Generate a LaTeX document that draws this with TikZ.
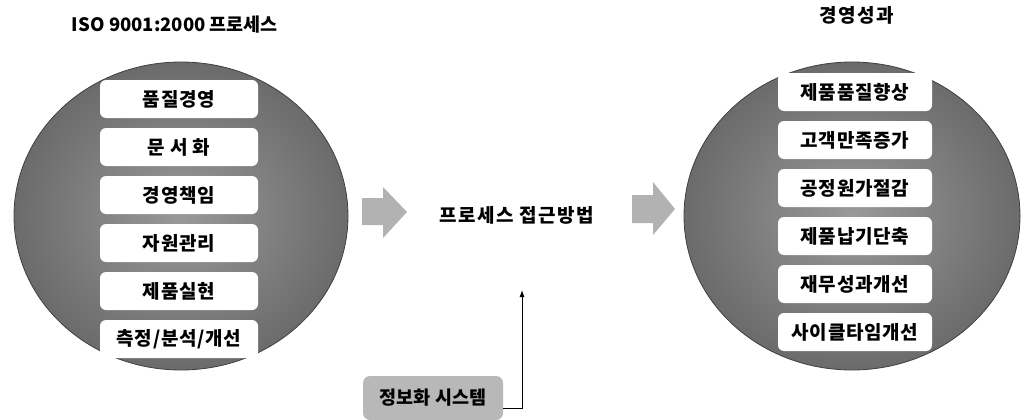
\documentclass[tikz,border=0pt]{standalone}
\usepackage{fontspec}
\setmainfont{Noto Sans CJK KR}
\usetikzlibrary{shapes.geometric,arrows.meta}
\tikzset{
  globe/.style={ellipse, inner sep=0pt, draw=black!75, line width=0.8pt,
    inner color=black!40, outer color=black!58},
  itembox/.style={fill=white, rounded corners=6pt, inner sep=0pt,
    font=\fontsize{19}{19}\selectfont\bfseries\addfontfeature{LetterSpace=4}},
  blockarrow/.style={fill=black!30},
  title/.style={font=\fontsize{18.5}{19}\selectfont\bfseries, inner sep=0pt},
  infobox/.style={fill=black!28, rounded corners=7pt, inner sep=0pt,
    minimum width=140pt, minimum height=44pt, font=\fontsize{18.5}{19}\selectfont\bfseries},
  link/.style={draw=black, line width=0.9pt, -{Latex[length=7pt,width=5pt]}}
}
\begin{document}
\begin{tikzpicture}[x=1pt,y=-1pt]
\useasboundingbox (0,0) rectangle (1022,420);
% titles
\node[title] (tl) at (175,25) {ISO 9001:2000 프로세스};
\node[title, font=\fontsize{19}{19}\selectfont\bfseries\addfontfeature{LetterSpace=8}] (tr) at (857,15) {경영성과};
% globes
\node[globe, minimum width=334pt, minimum height=308pt] (gl) at (181,216) {};
\node[globe, minimum width=336pt, minimum height=308pt] (gr) at (852,216) {};
% left items
\foreach \t [count=\i] in {품질경영,문 서 화,경영책임,자원관리,제품실현,측정/분석/개선}{
  \node[itembox, minimum width=158pt, minimum height=38pt] (l\i) at (179,{51+48*\i}) {\t};
}
% right items
\foreach \t [count=\i] in {제품품질향상,고객만족증가,공정원가절감,제품납기단축,재무성과개선,사이클타임개선}{
  \node[itembox, minimum width=154pt, minimum height=38pt] (r\i) at (855,{44+48*\i}) {\t};
}
% block arrows
\fill[blockarrow] (362,198) -- (383,198) -- (383,187) -- (407,212) -- (383,238) -- (383,225) -- (362,225) -- cycle;
\fill[blockarrow] (632,195) -- (653,195) -- (653,182) -- (675,209) -- (653,235) -- (653,223) -- (632,223) -- cycle;
% middle text
\node[title, font=\fontsize{19}{19}\selectfont\bfseries\addfontfeature{LetterSpace=8}] (mid) at (517,215) {프로세스 접근방법};
% info system
\node[infobox] (info) at (433,398) {정보화 시스템};
\coordinate (tip) at (522,290);
\draw[link] ([yshift=-10pt]info.east) -| (tip);
\end{tikzpicture}
\end{document}
